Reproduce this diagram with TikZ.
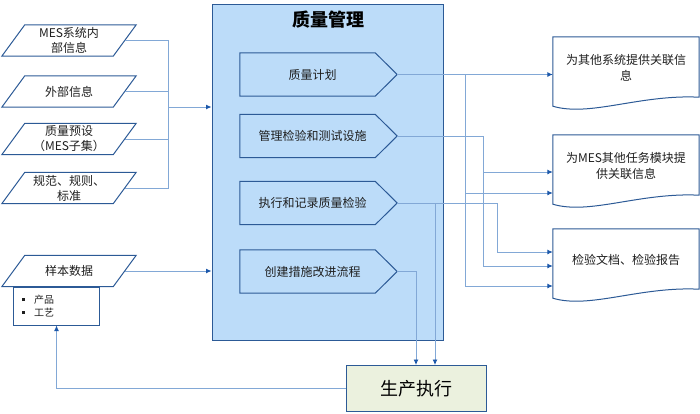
\documentclass[tikz,border=0pt]{standalone}
\usepackage{fontspec}
\setmainfont{Noto Sans CJK SC}
\usetikzlibrary{arrows.meta,calc,backgrounds}
\definecolor{borderblue}{RGB}{44,90,150}
\definecolor{lineblue}{RGB}{130,168,214}
\definecolor{tipblue}{RGB}{28,88,170}
\definecolor{mainfill}{RGB}{188,220,249}
\definecolor{prodfill}{RGB}{235,241,222}
\definecolor{textgray}{RGB}{30,30,30}
\tikzset{
  bord/.style={draw=borderblue, line width=1bp},
  conn/.style={draw=lineblue, line width=0.9bp},
  arr/.style={conn, -{Latex[length=5.5bp,width=5bp,color=tipblue]}},
  ptext/.style={minimum width=111bp, minimum height=31bp, inner sep=0pt, align=center,
    text=textgray, font=\fontsize{12bp}{15bp}\selectfont},
  chev/.style={minimum width=157bp, minimum height=43bp, inner sep=0pt, text=textgray,
    font=\fontsize{12bp}{15bp}\selectfont, execute at end node={\kern12bp}},
  docnode/.style={minimum width=146bp, minimum height=61.4bp, inner sep=0pt, align=center,
    text=textgray, font=\fontsize{12bp}{16bp}\selectfont},
}
\newcommand\paradraw[1]{%
  \draw[bord] ([xshift=11.5bp]#1.north west) -- ([xshift=11.5bp]#1.north east)
    -- ([xshift=-11.5bp]#1.south east) -- ([xshift=-11.5bp]#1.south west) -- cycle;}
\newcommand\chevdraw[1]{%
  \draw[bord, fill=mainfill] (#1.north west) -- ([xshift=-22bp]#1.north east) -- (#1.east)
    -- ([xshift=-22bp]#1.south east) -- (#1.south west) -- cycle;}
\newcommand\docdraw[1]{%
  \draw[bord, fill=white] ([yshift=-7.6bp]#1.south west) -- (#1.north west) -- (#1.north east)
    -- ([yshift=1.4bp]#1.south east)
    .. controls ([xshift=87bp,yshift=4.4bp]#1.south west) and ([xshift=37bp,yshift=-18.6bp]#1.south west)
    .. ([yshift=-7.6bp]#1.south west) -- cycle;}
\begin{document}
\begin{tikzpicture}[x=1bp,y=-1bp]
\useasboundingbox (0,0) rectangle (700,413);

% chevrons (text), shapes go to background
\node[chev] (c1) at (318.5,74.5) {质量计划};
\node[chev] (c2) at (318.5,136) {管理检验和测试设施};
\node[chev] (c3) at (318.5,203) {执行和记录质量检验};
\node[chev] (c4) at (318.5,271.5) {创建措施改进流程};
\node[font=\fontsize{18bp}{20bp}\selectfont\bfseries, text=black] (title) at (328,20) {质量管理};

% documents
\node[docnode] (d1) at (626,67.7) {为其他系统提供关联信\\息};
\node[docnode] (d2) at (626,165.7) {为MES其他任务模块提\\供关联信息};
\node[docnode] (d3) at (626,259.7) {检验文档、检验报告};

\begin{scope}[on background layer]
  \node[bord, fill=mainfill, minimum width=231bp, minimum height=336bp, inner sep=0pt] (main) at (327.5,172) {};
  \chevdraw{c1}
  \chevdraw{c2}
  \chevdraw{c3}
  \chevdraw{c4}
  \docdraw{d1}
  \docdraw{d2}
  \docdraw{d3}
\end{scope}

% left inputs
\node[ptext] (p1) at (69,40.5) {MES系统内\\部信息};
\paradraw{p1}
\node[ptext] (p2) at (69,91.5) {外部信息};
\paradraw{p2}
\node[ptext] (p3) at (69,139) {质量预设\\（MES子集）};
\paradraw{p3}
\node[ptext] (p4) at (69,188) {规范、规则、\\标准};
\paradraw{p4}
\node[ptext] (p5) at (69,271) {样本数据};
\paradraw{p5}
\node[bord, minimum width=85bp, minimum height=38bp, inner xsep=8bp, inner ysep=0pt,
  text width=69bp, align=left, text=textgray, font=\fontsize{10bp}{12.5bp}\selectfont] (sb) at (56.5,306)
  {\rule[2.5bp]{3bp}{3bp}\hspace{9bp}产品\\\rule[2.5bp]{3bp}{3bp}\hspace{9bp}工艺};

% production
\node[draw=borderblue, line width=1bp, fill=prodfill, minimum width=140bp, minimum height=46bp,
  inner sep=0pt, text=black, font=\fontsize{18bp}{20bp}\selectfont] (prod) at (416,388.5) {生产执行};

% left connectors
\coordinate (J) at (168,107);
\draw[conn] (p1.east) -| (J);
\draw[conn] (p2.east) -| (J);
\draw[conn] (p3.east) -| (J);
\draw[conn] (p4.east) -| (J);
\draw[arr] (J) -- (main.west |- J);
\draw[arr] (p5.east) -- (main.west |- p5.east);
\draw[arr] (prod.west) -| (sb.south);

% right connectors
\coordinate (k1) at (465,74.5);
\coordinate (k1b) at (465,193);
\coordinate (k1c) at (465,286);
\coordinate (k2) at (483,266);
\coordinate (k2b) at (483,172);
\coordinate (k3) at (497,252);
\coordinate (k3b) at (435,203);
\draw[arr] (c1.east) -- (d1.west |- c1.east);
\draw[arr] (k1) -- (k1c) -- (d3.west |- k1c);
\draw[arr] (k1b) -- (d2.west |- k1b);
\draw[arr] (c2.east) -| (k2) -- (d3.west |- k2);
\draw[arr] (k2b) -- (d2.west |- k2b);
\draw[arr] (c3.east) -| (k3) -- (d3.west |- k3);
\draw[arr] (k3b) -- (k3b |- prod.north);
\draw[arr] (c4.east) -| (prod.north);
\end{tikzpicture}
\end{document}
